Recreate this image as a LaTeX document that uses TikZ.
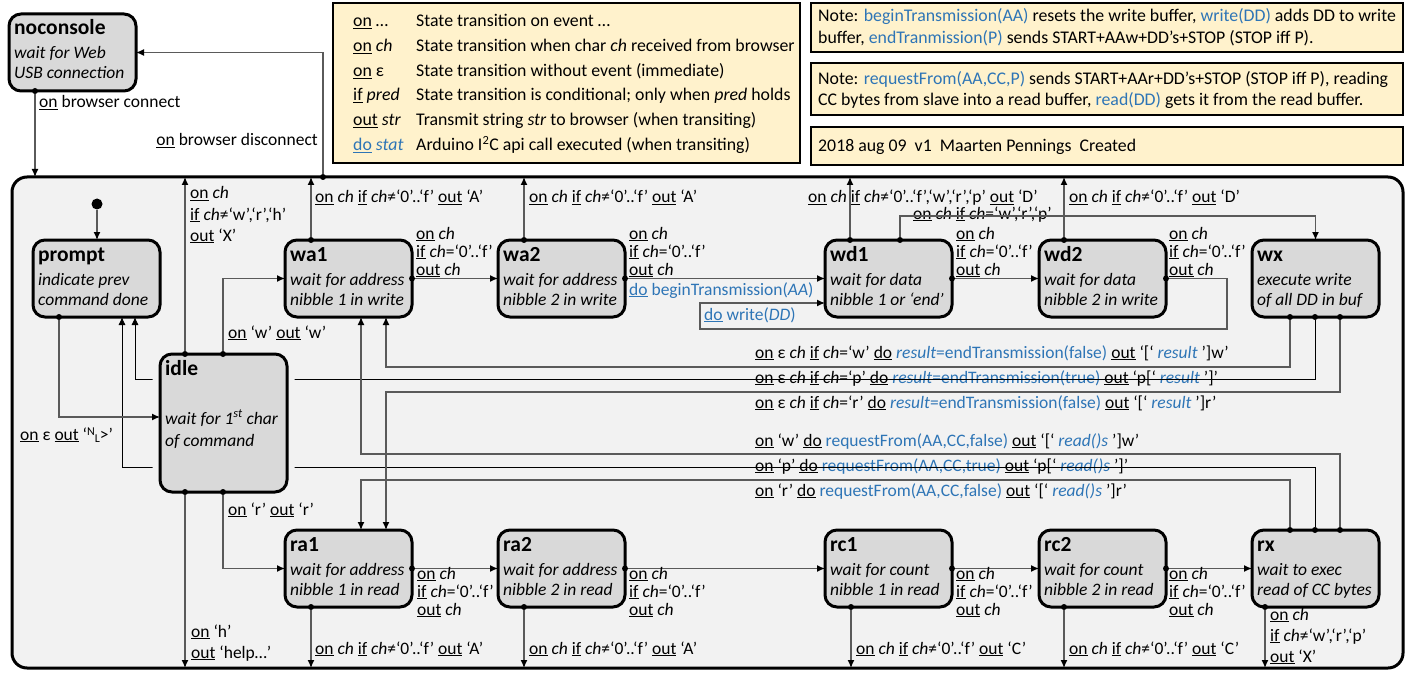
\documentclass[tikz,border=0pt]{standalone}
\usepackage{fontspec}
\setmainfont{Carlito}
\usetikzlibrary{arrows.meta,calc}
\definecolor{cblue}{RGB}{46,117,182}
\definecolor{sfill}{RGB}{217,217,217}
\definecolor{cfill}{RGB}{242,242,242}
\definecolor{nfill}{RGB}{255,242,204}
\definecolor{lgray}{RGB}{90,90,90}
\newcommand\lfont{\fontsize{17.5}{18}\selectfont}
\newcommand\nfont{\fontsize{17.8}{18}\selectfont}
\newcommand\tfont{\fontsize{21.5}{22}\selectfont\bfseries}
\newcommand\kw[1]{\underline{#1}}
\newcommand\bl[1]{\textcolor{cblue}{#1}}
\newcommand\mkstate[7]{%
  \node[statebox, minimum height=#4pt] (#1) at (#2,#3) {};
  \node[stitle] (#1-t) at ($(#1.north west)+(5,21)$) {#5};
  \node[sdesc] (#1-a) at ($(#1.north west)+(5,45)$) {#6};
  \node[sdesc] (#1-b) at ($(#1.north west)+(5,65)$) {#7};
}
\tikzset{
  statebox/.style={draw=black, line width=3pt, fill=sfill, rounded corners=12pt,
    minimum width=127pt, inner sep=0pt, outer sep=0pt, anchor=north west},
  stitle/.style={anchor=base west, inner sep=0pt, font=\tfont},
  sdesc/.style={anchor=base west, inner sep=0pt, font=\lfont\itshape},
  notebox/.style={draw=black, line width=1.5pt, fill=nfill, inner sep=0pt, outer sep=0pt, anchor=north west},
  lbl/.style={anchor=base west, inner sep=0pt, font=\lfont},
  nlbl/.style={anchor=base west, inner sep=0pt, font=\nfont},
  conn/.style={draw=lgray, line width=1.3pt},
  arr/.style={conn, -{Latex[length=8pt,width=7pt,color=black]}},
  parr/.style={draw=black, line width=0.8pt, -{Latex[length=8pt,width=7pt,color=black]}},
  dot/.style={circle, fill=black, inner sep=0pt, minimum size=6pt},
}
\begin{document}
\begin{tikzpicture}[x=1pt,y=-1pt]
\useasboundingbox[fill=white] (0,0) rectangle (1413,679);
% container
\node[draw=black, line width=3pt, fill=cfill, rounded corners=15pt, minimum width=1391pt,
  minimum height=491pt, inner sep=0pt, outer sep=0pt, anchor=north west] (cont) at (12,177) {};
% legend
\node[notebox, minimum width=467pt, minimum height=160pt] (legend) at (333,3) {};
\node[nlbl] (lg1a) at (353,27) {\kw{on} …};
\node[nlbl] (lg1b) at (416,27) {State transition on event …};
\node[nlbl] (lg2a) at (353,52) {\kw{on} \textit{ch}};
\node[nlbl] (lg2b) at (416,52) {State transition when char \textit{ch} received from browser};
\node[nlbl] (lg3a) at (353,77) {\kw{on} ε};
\node[nlbl] (lg3b) at (416,77) {State transition without event (immediate)};
\node[nlbl] (lg4a) at (353,101) {\kw{if} \textit{pred}};
\node[nlbl] (lg4b) at (416,101) {State transition is conditional; only when \textit{pred} holds};
\node[nlbl] (lg5a) at (353,126) {\kw{out} \textit{str}};
\node[nlbl] (lg5b) at (416,126) {Transmit string \textit{str} to browser (when transiting)};
\node[nlbl] (lg6a) at (353,151) {\bl{\kw{do} \textit{stat}}};
\node[nlbl] (lg6b) at (416,151) {Arduino I\textsuperscript{2}C api call executed (when transiting)};
% notes
\node[notebox, minimum width=592pt, minimum height=49pt] (note1) at (811,3) {};
\node[nlbl] (n1a) at (818,22) {Note: \bl{beginTransmission(AA)} resets the write buffer, \bl{write(DD)} adds DD to write};
\node[nlbl] (n1b) at (818,44) {buffer, \bl{endTranmission(P)} sends START+AAw+DD’s+STOP (STOP iff P).};
\node[notebox, minimum width=592pt, minimum height=52pt] (note2) at (811,63) {};
\node[nlbl] (n2a) at (818,85) {Note: \bl{requestFrom(AA,CC,P)} sends START+AAr+DD’s+STOP (STOP iff P), reading};
\node[nlbl] (n2b) at (818,106) {CC bytes from slave into a read buffer, \bl{read(DD)} gets it from the read buffer.};
\node[notebox, minimum width=592pt, minimum height=38pt] (note3) at (811,127) {};
\node[nlbl] (n3a) at (818,152) {2018 aug 09\ \ v1\ \ Maarten Pennings\ \ Created};

% long labels
\node[lbl] (lw1) at (755,358) {\kw{on} ε \textit{ch} \kw{if} \textit{ch}=‘w’ \kw{do} \bl{\textit{result}=endTransmission(false)} \kw{out} ‘[‘ \bl{\textit{result}} ’]w’};
\node[lbl] (lp1) at (755,383) {\kw{on} ε \textit{ch} \kw{if} \textit{ch}=‘p’ \kw{do} \bl{\textit{result}=endTransmission(true)} \kw{out} ‘p[‘ \bl{\textit{result}} ’]’};
\node[lbl] (lr1) at (755,408) {\kw{on} ε \textit{ch} \kw{if} \textit{ch}=‘r’ \kw{do} \bl{\textit{result}=endTransmission(false)} \kw{out} ‘[‘ \bl{\textit{result}} ’]r’};
\node[lbl] (lw2) at (755,446) {\kw{on} ‘w’ \kw{do} \bl{requestFrom(AA,CC,false)} \kw{out} ‘[‘ \bl{\textit{read()s}} ’]w’};
\node[lbl] (lp2) at (755,471) {\kw{on} ‘p’ \kw{do} \bl{requestFrom(AA,CC,true)} \kw{out} ‘p[‘ \bl{\textit{read()s}} ’]’};
\node[lbl] (lr2) at (755,496) {\kw{on} ‘r’ \kw{do} \bl{requestFrom(AA,CC,false)} \kw{out} ‘[‘ \bl{\textit{read()s}} ’]r’};
\node[lbl] (lwx) at (913,219) {\kw{on} \textit{ch} \kw{if} \textit{ch}=‘w’,‘r’,‘p’};

% level coordinates
\coordinate (yw1) at (0,367);
\coordinate (yp1) at (0,379);
\coordinate (yr1) at (0,392);
\coordinate (yw2) at (0,454);
\coordinate (yp2) at (0,467);
\coordinate (yr2) at (0,480);
\coordinate (pr1) at (135,317);
\coordinate (pr2) at (122,317);
\coordinate (wa1b1) at (361,317);
\coordinate (wa1b2) at (386,317);
\coordinate (ra1t1) at (361,530);
\coordinate (ra1t2) at (386,530);

% states
\mkstate{noconsole}{9}{14}{77}{noconsole}{wait for Web}{USB connection}
\mkstate{prompt}{33}{240}{77}{prompt}{indicate prev}{command done}
\mkstate{wa1}{285}{240}{77}{wa1}{wait for address}{nibble 1 in write}
\mkstate{wa2}{498}{240}{77}{wa2}{wait for address}{nibble 2 in write}
\mkstate{wd1}{825}{240}{77}{wd1}{wait for data}{nibble 1 or ‘end’}
\mkstate{wd2}{1039}{240}{77}{wd2}{wait for data}{nibble 2 in write}
\mkstate{wx}{1252}{240}{77}{wx}{execute write}{of all DD in buf}
\mkstate{ra1}{285}{530}{77}{ra1}{wait for address}{nibble 1 in read}
\mkstate{ra2}{498}{530}{77}{ra2}{wait for address}{nibble 2 in read}
\mkstate{rc1}{825}{530}{77}{rc1}{wait for count}{nibble 1 in read}
\mkstate{rc2}{1039}{530}{77}{rc2}{wait for count}{nibble 2 in read}
\mkstate{rx}{1252}{530}{77}{rx}{wait to exec}{read of CC bytes}

% dots on wx / rx
\node[dot] (dwx1) at (1290,317) {};
\node[dot] (dwx2) at (1315,317) {};
\node[dot] (dwx3) at (1340,317) {};
\node[dot] (drx1) at (1290,530) {};
\node[dot] (drx2) at (1315,530) {};
\node[dot] (drx3) at (1340,530) {};
% p lines (pass behind idle)
\draw[parr] (dwx2) -- (dwx2 |- yp1) -| (pr1);
\draw[parr] (drx2) -- (drx2 |- yp2) -| (pr2);
% idle
\node[statebox, minimum height=138pt, preaction={draw=cfill, line width=15pt}] (idle) at (160,354) {};
\node[stitle] (idle-t) at (165,375) {idle};
\node[sdesc] (idle-a) at (165,424) {wait for 1\textsuperscript{st} char};
\node[sdesc] (idle-b) at (165,446) {of command};

% wx / rx long connectors
\draw[arr] (dwx1) -- (dwx1 |- yw1) -| (wa1b2);
\draw[arr] (dwx3) -- (dwx3 |- yr1) -| (ra1t2);
\draw[arr] (drx3) -- (drx3 |- yw2) -| (wa1b1);
\draw[arr] (drx1) -- (drx1 |- yr2) -| (ra1t1);

% noconsole connections
\node[dot] (dnc) at (35,91) {};
\draw[arr] (dnc) -- (dnc |- cont.north);
\node[lbl] (lnc) at (39,108) {\kw{on} browser connect};
\node[dot] (dct) at (323,177) {};
\draw[arr] (dct) |- (noconsole.east);
\node[lbl, anchor=base east] (ldc) at (318,146) {\kw{on} browser disconnect};

% initial
\node[circle, fill=black, inner sep=0pt, minimum size=11pt] (init) at (97,204) {};
\draw[arr] (init) -- (init |- prompt.north);

% prompt -> idle
\node[dot] (dpb) at (59,317) {};
\coordinate (idlein) at (160,417);
\draw[arr] (dpb) |- (idlein);
\node[lbl] (leps) at (20,440) {\kw{on} ε \kw{out} ‘\raisebox{5pt}{\fontsize{12}{12}\selectfont N}\raisebox{-2pt}{\fontsize{12}{12}\selectfont L}>’};

% idle top
\node[dot] (dit1) at (185,354) {};
\node[dot] (dit2) at (223,354) {};
\draw[arr] (dit1) -- (dit1 |- cont.north);
\draw[arr] (dit2) |- (wa1.west);
\node[lbl] (li1) at (190,199) {\kw{on} \textit{ch}};
\node[lbl] (li2) at (190,220) {\kw{if} \textit{ch}≠‘w’,‘r’,‘h’};
\node[lbl] (li3) at (190,241) {\kw{out} ‘X’};
\node[lbl] (liw) at (228,338) {\kw{on} ‘w’ \kw{out} ‘w’};
% idle bottom
\node[dot] (dib1) at (185,492) {};
\node[dot] (dib2) at (223,492) {};
\draw[arr] (dib1) -- (dib1 |- cont.south);
\draw[arr] (dib2) |- (ra1.west);
\node[lbl] (lh1) at (191,637) {\kw{on} ‘h’};
\node[lbl] (lh2) at (191,658) {\kw{out} ‘help…’};
\node[lbl] (lir) at (228,515) {\kw{on} ‘r’ \kw{out} ‘r’};

% top row up-transitions
\node[dot] (dwa1t) at (311,240) {};
\draw[arr] (dwa1t) -- (dwa1t |- cont.north);
\node[lbl] (lwa1u) at (315,203) {\kw{on} \textit{ch} \kw{if} \textit{ch}≠‘0’..‘f’ \kw{out} ‘A’};
\node[dot] (dwa2t) at (524,240) {};
\draw[arr] (dwa2t) -- (dwa2t |- cont.north);
\node[lbl] (lwa2u) at (529,203) {\kw{on} \textit{ch} \kw{if} \textit{ch}≠‘0’..‘f’ \kw{out} ‘A’};
\node[dot] (dwd1t) at (850,240) {};
\draw[arr] (dwd1t) -- (dwd1t |- cont.north);
\node[lbl] (lwd1u) at (808,203) {\kw{on} \textit{ch} \kw{if} \textit{ch}≠‘0’..‘f’,‘w’,‘r’,‘p’ \kw{out} ‘D’};
\node[dot] (dwd1x) at (900,240) {};
\coordinate (ywx) at (0,216);
\draw[arr] (dwd1x) -- (dwd1x |- ywx) -| (wx.north);
\node[dot] (dwd2t) at (1064,240) {};
\draw[arr] (dwd2t) -- (dwd2t |- cont.north);
\node[lbl] (lwd2u) at (1069,203) {\kw{on} \textit{ch} \kw{if} \textit{ch}≠‘0’..‘f’ \kw{out} ‘D’};

% top row forward transitions
\node[dot] (dwa1e) at (wa1.east) {};
\draw[arr] (dwa1e) -- (wa2.west);
\node[dot] (dwa2e) at (wa2.east) {};
\draw[arr] (dwa2e) -- (wd1.west);
\node[dot] (dwd1e) at (wd1.east) {};
\draw[arr] (dwd1e) -- (wd2.west);
\node[dot] (dwd2e) at (wd2.east) {};
\coordinate (lpa) at (1227,329);
\coordinate (lpb) at (700,303);
\coordinate (wd1in) at (825,303);
\draw[arr] (dwd2e) -| (lpa) -| (lpb) -- (wd1in);
\foreach \x/\n in {416/a,629/b,956/c,1169/d}{
  \node[lbl] (lt1\n) at (\x,239) {\kw{on} \textit{ch}};
  \node[lbl] (lt2\n) at (\x,257) {\kw{if} \textit{ch}=‘0’..‘f’};
  \node[lbl] (lt3\n) at (\x,275) {\kw{out} \textit{ch}};
}
\node[lbl] (lbt) at (629,295) {\bl{\kw{do} beginTransmission(\textit{AA})}};
\node[lbl] (lwr) at (704,320) {\bl{\kw{do} write(\textit{DD})}};

% bottom row forward transitions
\node[dot] (dra1e) at (ra1.east) {};
\draw[arr] (dra1e) -- (ra2.west);
\node[dot] (dra2e) at (ra2.east) {};
\draw[arr] (dra2e) -- (rc1.west);
\node[dot] (drc1e) at (rc1.east) {};
\draw[arr] (drc1e) -- (rc2.west);
\node[dot] (drc2e) at (rc2.east) {};
\draw[arr] (drc2e) -- (rx.west);
\foreach \x/\n in {417/a,629/b,956/c,1169/d}{
  \node[lbl] (lb1\n) at (\x,579) {\kw{on} \textit{ch}};
  \node[lbl] (lb2\n) at (\x,597) {\kw{if} \textit{ch}=‘0’..‘f’};
  \node[lbl] (lb3\n) at (\x,615) {\kw{out} \textit{ch}};
}
% bottom row down-transitions
\node[dot] (dra1b) at (311,607) {};
\draw[arr] (dra1b) -- (dra1b |- cont.south);
\node[lbl] (lra1d) at (315,654) {\kw{on} \textit{ch} \kw{if} \textit{ch}≠‘0’..‘f’ \kw{out} ‘A’};
\node[dot] (dra2b) at (524,607) {};
\draw[arr] (dra2b) -- (dra2b |- cont.south);
\node[lbl] (lra2d) at (529,654) {\kw{on} \textit{ch} \kw{if} \textit{ch}≠‘0’..‘f’ \kw{out} ‘A’};
\node[dot] (drc1b) at (851,607) {};
\draw[arr] (drc1b) -- (drc1b |- cont.south);
\node[lbl] (lrc1d) at (856,654) {\kw{on} \textit{ch} \kw{if} \textit{ch}≠‘0’..‘f’ \kw{out} ‘C’};
\node[dot] (drc2b) at (1064,607) {};
\draw[arr] (drc2b) -- (drc2b |- cont.south);
\node[lbl] (lrc2d) at (1069,654) {\kw{on} \textit{ch} \kw{if} \textit{ch}≠‘0’..‘f’ \kw{out} ‘C’};
\node[dot] (drxb) at (1265,607) {};
\draw[arr] (drxb) -- (drxb |- cont.south);
\node[lbl] (lrx1) at (1270,620) {\kw{on} \textit{ch}};
\node[lbl] (lrx2) at (1270,641) {\kw{if} \textit{ch}≠‘w’,‘r’,‘p’};
\node[lbl] (lrx3) at (1270,662) {\kw{out} ‘X’};
\end{tikzpicture}
\end{document}
